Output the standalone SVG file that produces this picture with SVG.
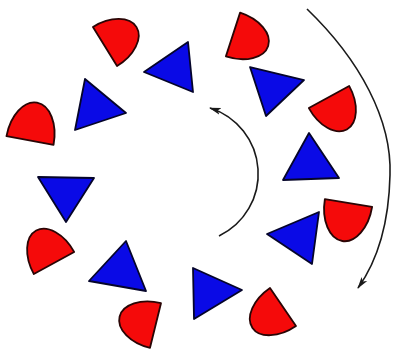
<svg xmlns="http://www.w3.org/2000/svg" width="393" height="351" viewBox="0 0 393 351">
<style>
.d{fill:#f50a0a;stroke:#2a0505;stroke-width:1.8;stroke-linejoin:round}
.t{fill:#0a0ae6;stroke:#05052a;stroke-width:1.8;stroke-linejoin:round}
.arc{fill:none;stroke:#1a1a1a;stroke-width:1.6}
</style>
<defs>
<path id="dshape" d="M-23,0 L23,0 A23,37 0 0 0 -23,0 Z"/>
<marker id="ah" viewBox="0 0 12 8" refX="11" refY="4" markerWidth="12" markerHeight="8" markerUnits="userSpaceOnUse" orient="auto">
<path d="M0,0.5 L12,4 L0,7.5 L3,4 Z" fill="#1a1a1a"/>
</marker>
</defs>
<rect width="393" height="351" fill="#fff"/>
<g id="red-1"><use href="#dshape" class="d" transform="translate(105,46.5) rotate(58.4)"/></g>
<g id="red-2"><use href="#dshape" class="d" transform="translate(30,140.5) rotate(10.6) scale(1.04)"/></g>
<g id="red-3"><use href="#dshape" class="d" transform="translate(233,34.5) rotate(108)"/></g>
<g id="red-4"><use href="#dshape" class="d" transform="translate(329,97) rotate(151.2)"/></g>
<g id="red-5"><use href="#dshape" class="d" transform="translate(348.5,203) rotate(189.3) scale(1.04)"/></g>
<g id="red-6"><use href="#dshape" class="d" transform="translate(283,307) rotate(-124.4)"/></g>
<g id="red-7"><use href="#dshape" class="d" transform="translate(155.5,325.5) rotate(-76.2)"/></g>
<g id="red-8"><use href="#dshape" class="d" transform="translate(54,263) rotate(-28.8)"/></g>
<g id="blue-1"><polygon class="t" points="144,72 188,42 193,92"/></g>
<g id="blue-2"><polygon class="t" points="85,79 126,113 75,130"/></g>
<g id="blue-3"><polygon class="t" points="250,67 304,80 266,116"/></g>
<g id="blue-4"><polygon class="t" points="309,133 283,180 339,178"/></g>
<g id="blue-5"><polygon class="t" points="267,234 319,212 312,264"/></g>
<g id="blue-6"><polygon class="t" points="193,268 242,290 194,319"/></g>
<g id="blue-7"><polygon class="t" points="126,241 89,281 146,291"/></g>
<g id="blue-8"><polygon class="t" points="38,177 94,178 66,222"/></g>
<g id="connectors">
<path class="arc" d="M307,9 C360,60 392,120 390,175 C389,220 378,260 358,288" marker-end="url(#ah)"/>
<path class="arc" d="M219,236 A69,69 0 0 0 210,108" marker-end="url(#ah)"/>
</g>
</svg>
